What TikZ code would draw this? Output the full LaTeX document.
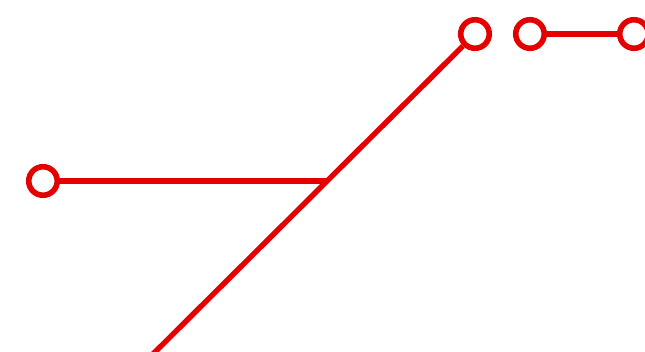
\documentclass[tikz,border=0pt]{standalone}
\usepackage{tikz}
\usetikzlibrary{positioning}
\definecolor{linered}{RGB}{228,0,0}

\begin{document}
\begin{tikzpicture}[x=1pt, y=-1pt,
  stop/.style={draw=linered, circle, fill=white, line width=5.6pt, minimum size=28.5pt, inner sep=0pt},
  track/.style={draw=linered, line width=5.4pt}]
  \useasboundingbox (0,0) rectangle (645,352);
  \node[stop] (west) at (43,181) {};
  \node[stop] (north) at (475,34) {};
  \node[stop] (east) at (530,34) {};
  \node[stop] (far) at (634,34) {};
  \coordinate (fork) at (328,181);
  \coordinate (south) at (150,357);
  \draw[track] (south) -- (north);
  \draw[track] (west) -- (fork);
  \draw[track] (east) -- (far);
\end{tikzpicture}
\end{document}
